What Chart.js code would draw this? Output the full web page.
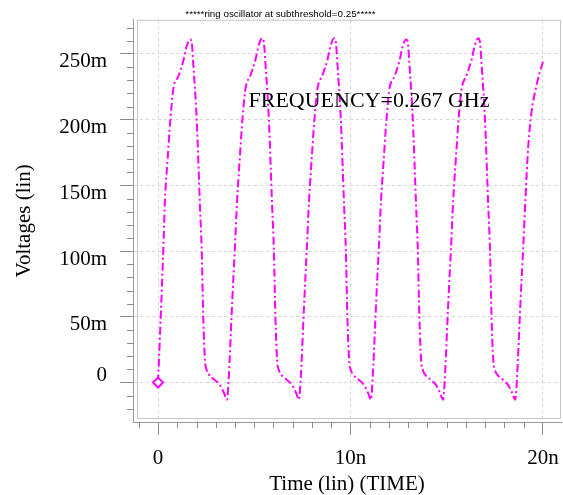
<!DOCTYPE html>
<html lang="en">
<head>
<meta charset="utf-8">
<title>ring oscillator at subthreshold</title>
<script src="https://cdn.jsdelivr.net/npm/chart.js@4.4.0/dist/chart.umd.min.js"></script>
<style>
  html, body { margin: 0; padding: 0; background: #fff; }
  #contenedor { width: 563px; height: 495px; }
</style>
</head>
<body>
<div id="contenedor"><canvas id="grafico" width="563" height="495"></canvas></div>
<script>
// Tiempo en ns, tension en mV (un ciclo por fila)
const tiempoNs = [
  0, 0.1, 0.2, 0.3, 0.36, 0.5, 0.6, 0.7, 0.8, 1.06, 1.32, 1.49, 1.66, 1.75, 1.83, 2.01, 2.18, 2.27, 2.35, 2.44, 2.53, 2.65, 2.95, 3.22, 3.43, 3.58,
  3.65, 3.72, 3.86, 3.99, 4.11, 4.25, 4.35, 4.45, 4.55, 4.81, 5.07, 5.24, 5.41, 5.50, 5.58, 5.76, 5.93, 6.02, 6.10, 6.19, 6.28, 6.40, 6.70, 6.97, 7.18, 7.32,
  7.39, 7.46, 7.60, 7.73, 7.85, 7.99, 8.09, 8.19, 8.29, 8.55, 8.81, 8.98, 9.15, 9.24, 9.32, 9.50, 9.67, 9.76, 9.84, 9.93, 10.02, 10.14, 10.44, 10.71, 10.92, 11.06,
  11.13, 11.20, 11.34, 11.47, 11.59, 11.73, 11.83, 11.93, 12.03, 12.29, 12.55, 12.72, 12.89, 12.98, 13.06, 13.24, 13.41, 13.50, 13.58, 13.67, 13.76, 13.88, 14.18, 14.45, 14.66, 14.81,
  14.88, 14.95, 15.09, 15.22, 15.34, 15.48, 15.58, 15.68, 15.78, 16.04, 16.30, 16.47, 16.64, 16.73, 16.81, 16.99, 17.16, 17.25, 17.33, 17.42, 17.51, 17.63, 17.93, 18.20, 18.41, 18.56,
  18.63, 18.70, 18.84, 18.97, 19.09, 19.24, 19.40, 19.62, 19.82, 20.0
];
const voltajeMv = [
  0, 35, 72, 112, 139, 170, 192, 210, 224, 233, 245, 256, 261, 259, 243, 200, 134, 101, 50, 17, 9.5, 6, 2, -2, -8, -13,
  -3, 17, 63, 101, 139, 171, 193, 211, 224, 234, 246, 257, 262, 259, 243, 200, 134, 101, 50, 17, 9.5, 6, 2, -2, -8, -13,
  -3, 16, 62, 101, 139, 171, 193, 211, 224, 234, 246, 257, 262, 259, 243, 200, 134, 101, 50, 17, 9.5, 6, 2, -2, -8, -13,
  -3, 17, 63, 101, 139, 170, 192, 210, 224, 233, 245, 256, 261, 259, 243, 200, 134, 101, 50, 17, 9.5, 6, 2, -2, -8, -13,
  -3, 17, 63, 101, 139, 171, 193, 211, 224, 234, 246, 257, 262, 259, 243, 200, 134, 101, 50, 17, 9.5, 6, 2, -2, -8, -13,
  -3, 17, 63, 101, 139, 180, 205, 223, 235, 244
];

const marcasX = [0, 10, 20];
const etiquetasX = ['0', '10n', '20n'];
const marcasY = [0, 50, 100, 150, 200, 250];
const etiquetasY = ['0', '50m', '100m', '150m', '200m', '250m'];

const titulo = '*****ring oscillator at subthreshold=0.25*****';
const anotacion = { texto: 'FREQUENCY=0.267 GHz', t: 4.7, v: 214 };

const fuenteSerif = '"Liberation Serif", "Times New Roman", serif';

// marco gris, marcas menores y texto de frecuencia
const marcoYMarcas = {
  id: 'marcoYMarcas',
  beforeDatasetsDraw(chart) {
    const { ctx, chartArea: a, scales: { x, y } } = chart;
    ctx.save();
    ctx.strokeStyle = '#c6c6c6';
    ctx.lineWidth = 1;
    ctx.beginPath();
    ctx.moveTo(a.left + 4.5, a.top + 0.5);
    ctx.lineTo(a.right - 0.5, a.top + 0.5);
    ctx.lineTo(a.right - 0.5, a.bottom - 3.5);
    ctx.lineTo(a.left + 4.5, a.bottom - 3.5);
    ctx.closePath();
    ctx.stroke();

    ctx.strokeStyle = '#8a8a8a';
    ctx.beginPath();
    for (let v = -20; v <= 270; v += 10) {
      if (v % 50 === 0) continue;
      const py = Math.round(y.getPixelForValue(v)) + 0.5;
      ctx.moveTo(a.left - 6, py);
      ctx.lineTo(a.left, py);
    }
    for (let t = -1; t <= 20; t += 1) {
      if (t % 10 === 0) continue;
      const px = Math.round(x.getPixelForValue(t)) + 0.5;
      ctx.moveTo(px, a.bottom);
      ctx.lineTo(px, a.bottom + 6);
    }
    ctx.stroke();
    ctx.restore();
  },
  afterDatasetsDraw(chart) {
    const { ctx, scales: { x, y } } = chart;
    ctx.save();
    ctx.fillStyle = '#000';
    ctx.font = '22px ' + fuenteSerif;
    ctx.textBaseline = 'middle';
    ctx.textAlign = 'left';
    ctx.fillText(anotacion.texto, x.getPixelForValue(anotacion.t), y.getPixelForValue(anotacion.v));
    ctx.restore();
  }
};

// sin relleno extra por las etiquetas de los extremos
function sinRelleno(s) {
  s.paddingLeft = 0;
  s.paddingRight = 0;
  s.paddingTop = 0;
  s.paddingBottom = 0;
}

function crearGrafico() {
  const ctx = document.getElementById('grafico');
  const puntos = tiempoNs.map((t, i) => ({ x: t, y: voltajeMv[i] }));

  new Chart(ctx, {
    type: 'line',
    data: {
      datasets: [{
        label: 'v',
        data: puntos,
        borderColor: '#ff00ff',
        borderWidth: 2,
        borderDash: [8, 3, 2, 3],
        cubicInterpolationMode: 'monotone',
        fill: false,
        pointStyle: 'rectRot',
        pointRadius: c => (c.dataIndex === 0 ? 5 : 0),
        pointBorderWidth: 2,
        pointBorderColor: '#ff00ff',
        pointBackgroundColor: '#ffffff'
      }]
    },
    options: {
      responsive: false,
      animation: false,
      devicePixelRatio: 1,
      layout: { autoPadding: false, padding: { left: 0, right: 2, top: 0, bottom: 0 } },
      plugins: {
        legend: { display: false },
        tooltip: { enabled: false },
        title: {
          display: true,
          text: titulo,
          color: '#000',
          font: { family: '"Liberation Sans", Arial, sans-serif', size: 9.8, weight: 'normal', lineHeight: 1.2 },
          padding: { top: 8, bottom: 0 }
        }
      },
      scales: {
        x: {
          type: 'linear',
          min: -1.3,
          max: 20.94,
          afterBuildTicks: s => { s.ticks = marcasX.map(v => ({ value: v })); },
          afterFit: s => { s.height = 73; sinRelleno(s); },
          border: { color: '#9a9a9a', width: 1, dash: [3, 3] },
          grid: { color: '#d6d6d6', tickColor: '#8a8a8a', tickLength: 13, tickBorderDash: [] },
          ticks: {
            color: '#000',
            padding: 11,
            maxRotation: 0,
            font: { family: fuenteSerif, size: 21 },
            callback: (v, i) => etiquetasX[i]
          },
          title: {
            display: true,
            text: 'Time (lin) (TIME)',
            color: '#000',
            font: { family: fuenteSerif, size: 21 },
            padding: { top: 0, bottom: -2 }
          }
        },
        y: {
          type: 'linear',
          min: -30,
          max: 276,
          afterBuildTicks: s => { s.ticks = marcasY.map(v => ({ value: v })); },
          afterFit: s => { s.width = 133; sinRelleno(s); },
          border: { color: '#9a9a9a', width: 1, dash: [3, 3] },
          grid: { color: '#d6d6d6', tickColor: '#8a8a8a', tickLength: 13, tickBorderDash: [] },
          ticks: {
            color: '#000',
            padding: 13,
            labelOffset: 8,
            font: c => (c.tick && c.tick.value === 0
              ? { family: fuenteSerif, size: 21, lineHeight: '30px' }
              : { family: fuenteSerif, size: 21 }),
            callback: (v, i) => (v === 0 ? [etiquetasY[i], ''] : etiquetasY[i])
          },
          title: {
            display: true,
            text: 'Voltages (lin)',
            color: '#000',
            font: { family: fuenteSerif, size: 21 },
            padding: { top: 12, bottom: 0 }
          }
        }
      }
    },
    plugins: [marcoYMarcas]
  });
}

crearGrafico();
</script>
</body>
</html>
